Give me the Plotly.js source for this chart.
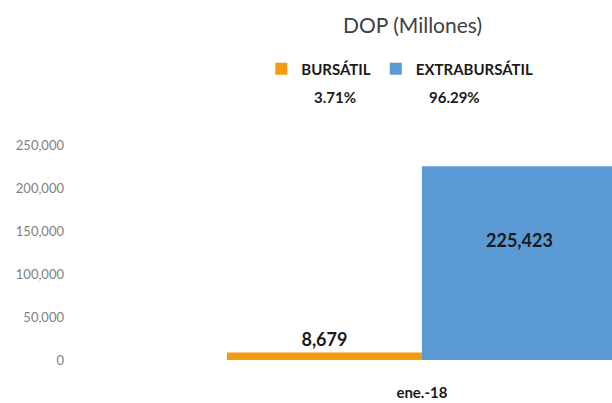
<!DOCTYPE html>
<html>
<head>
<meta charset="utf-8">
<script src="https://cdn.plot.ly/plotly-3.0.1.min.js"></script>
<style>html,body{margin:0;padding:0;background:#fff;}#chart{width:612px;height:403px;}</style>
</head>
<body>
<div id="chart"></div>
<script>
const categories = ["ene.-18"];
const seriesNames = ["BURSÁTIL", "EXTRABURSÁTIL"];
const bursatil = [8679];
const extrabursatil = [225423];
const shares = ["3.71%", "96.29%"];
const yTicks = [0, 50000, 100000, 150000, 200000, 250000];
const titleText = "DOP (Millones)";

const FONT = "Lato, 'Open Sans', sans-serif";
const fmt = v => v.toLocaleString("en-US");

const traces = [
  {
    type: "bar", name: seriesNames[0], x: categories, y: bursatil,
    marker: {color: "#F39C12"},
    text: bursatil.map(fmt), textposition: "outside", cliponaxis: false,
    textfont: {family: FONT, size: 18, color: "#1a1a1a", weight: "bold"},
    hoverinfo: "skip"
  },
  {
    type: "bar", name: seriesNames[1], x: categories, y: extrabursatil,
    marker: {color: "#5B9BD5"},
    text: [""], textposition: "none",
    hoverinfo: "skip"
  }
];

const layout = {
  width: 612, height: 403,
  margin: {l: 70, r: 0, t: 145, b: 43},
  paper_bgcolor: "#fff", plot_bgcolor: "#fff",
  barmode: "group", bargap: 0.2, bargroupgap: 0,
  font: {family: FONT, color: "#595959"},
  showlegend: true,
  legend: {
    orientation: "h", x: 0.353, xanchor: "left", y: 1.43, yanchor: "top",
    font: {family: FONT, size: 15, color: "#1a1a1a", weight: "bold"},
    itemwidth: 30, tracegroupgap: 0, traceorder: "normal"
  },
  xaxis: {
    type: "category", range: [-0.722, 0.39],
    showgrid: false, zeroline: false, showline: false, ticks: "",
    tickfont: {family: FONT, size: 15, color: "#1a1a1a", weight: "bold"},
    ticklabelstandoff: 22, fixedrange: true
  },
  yaxis: {
    range: [0, 250000], tickvals: yTicks, ticktext: yTicks.map(fmt),
    showgrid: false, zeroline: false, showline: false, ticks: "",
    tickfont: {family: FONT, size: 13, color: "#7f7f7f"},
    ticklabelstandoff: 5, fixedrange: true
  },
  annotations: [
    {xref: "paper", yref: "paper", x: (412 - 70) / 542, y: (360 - 25) / 215, xanchor: "center", yanchor: "middle",
     text: titleText, showarrow: false, font: {family: FONT, size: 21, color: "#404040"}},
    {xref: "paper", yref: "paper", x: (335 - 70) / 542, y: (360 - 97) / 215, xanchor: "center", yanchor: "middle",
     text: "<b>" + shares[0] + "</b>", showarrow: false, font: {family: FONT, size: 15, color: "#1a1a1a"}},
    {xref: "paper", yref: "paper", x: (454 - 70) / 542, y: (360 - 97) / 215, xanchor: "center", yanchor: "middle",
     text: "<b>" + shares[1] + "</b>", showarrow: false, font: {family: FONT, size: 15, color: "#1a1a1a"}},
    {xref: "x", yref: "y", x: 0.2, y: extrabursatil[0] * 0.62, xanchor: "center", yanchor: "middle",
     text: "<b>" + fmt(extrabursatil[0]) + "</b>", showarrow: false, font: {family: FONT, size: 18, color: "#1a1a1a"}}
  ]
};

Plotly.newPlot("chart", traces, layout, {staticPlot: true, displayModeBar: false});
</script>
</body>
</html>
